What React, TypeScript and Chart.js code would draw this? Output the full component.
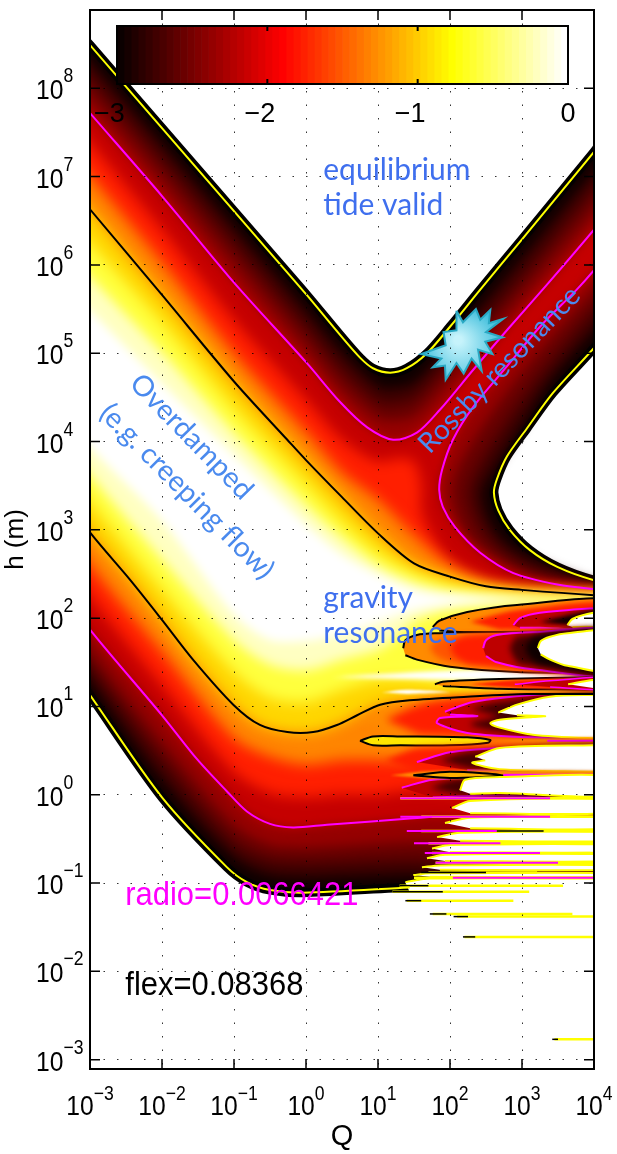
import React, { useEffect, useRef } from "react";
import { Chart, registerables } from "chart.js";

// ---------- data: log10(Q), log10(h) ----------
const qTickExps = [-3, -2, -1, 0, 1, 2, 3, 4];
const hTickExps = [-3, -2, -1, 0, 1, 2, 3, 4, 5, 6, 7, 8];
const colorbarTicks = [-3, -2, -1, 0];

const top00 = [[-3.4,8.87],[-3,8.49],[-2,7.55],[-1,6.61],[-.5,6.14],[.01,5.66],[.47,5.21],[.75,4.95],[.93,4.83],[1.17,4.78],[1.4,4.83],[1.68,5],[2,5.3],[2.42,5.72],[3,6.29],[4,7.28],[4.4,7.68]];
const nose00 = [[4.4,5.46],[4,5.06],[3.43,4.55],[3.07,4.15],[2.79,3.83],[2.65,3.57],[2.61,3.42],[2.67,3.22],[2.83,3],[3.11,2.77],[3.49,2.58],[4,2.43],[4.4,2.38]];
const low00 = [[4.4,-1.05],[1.44,-1.05],[-.04,-1.11],[-.5,-1.08],[-.82,-.99],[-1.1,-.82],[-2,-.03],[-3,1.13],[-3.4,1.59]];

const top06 = [[-3.4,8.69],[-3,8.31],[-2,7.37],[-1,6.43],[0,5.49],[.5,5.01],[1,4.63],[1.17,4.6],[1.5,4.67],[2,5.12],[3,6.08],[4,7.06],[4.4,7.46]];
const nose06 = [[4.4,5.66],[4,5.26],[3.4,4.7],[2.95,4.13],[2.6,3.68],[2.45,3.43],[2.55,3.09],[2.8,2.83],[3.2,2.64],[3.6,2.51],[4,2.4],[4.4,2.38]];
const low06 = [[4.4,-.91],[1.44,-.91],[.5,-.93],[0,-.94],[-.5,-.91],[-1,-.71],[-2,.17],[-3,1.3],[-3.4,1.76]];

const top12 = [[-3.4,8.5],[-3,8.12],[-2,7.18],[-1,6.24],[0,5.29],[.5,4.81],[1,4.45],[1.17,4.42],[1.5,4.49],[2,4.93],[3,5.86],[4,6.85],[4.4,7.25]];
const nose12 = [[4.4,5.89],[4,5.49],[3.3,4.81],[2.85,4.3],[2.45,3.79],[2.27,3.45],[2.35,3.14],[2.6,2.83],[3,2.6],[3.5,2.47],[4,2.38],[4.4,2.36]];
const low12 = [[4.4,-.74],[1.44,-.74],[.5,-.76],[0,-.77],[-.5,-.74],[-1,-.54],[-2,.39],[-3,1.47],[-3.4,1.93]];

const top18 = [[-3.4,8.3],[-3,7.92],[-2,6.98],[-1,6.03],[0,5.09],[.5,4.61],[1,4.27],[1.17,4.24],[1.5,4.29],[2,4.72],[3,5.66],[4,6.62],[4.4,7.02]];
const nose18 = [[4.4,6.12],[4,5.72],[3.25,5.04],[2.79,4.56],[2.4,4.11],[2.1,3.68],[2.03,3.43],[2.1,3.17],[2.3,2.88],[2.7,2.64],[3.2,2.45],[4,2.35],[4.4,2.33]];
const low18 = [[4.4,-.51],[1.44,-.54],[.5,-.58],[0,-.6],[-.5,-.57],[-1,-.34],[-2,.6],[-3,1.64],[-3.4,2.1]];

const top26 = [[-3.4,8.1],[-3,7.72],[-2,6.78],[-1,5.8],[.01,4.89],[.47,4.45],[.85,4.16],[1.21,4.02],[1.54,4.1],[1.86,4.36],[2.32,4.81],[2.79,5.26],[3.35,5.78],[4,6.4],[4.4,6.8]];
const nose26 = [[4.4,6.34],[4,5.94],[3.76,5.72],[3.25,5.3],[2.79,4.85],[2.32,4.39],[2.04,4.02],[1.89,3.68],[1.85,3.45],[1.9,3.26],[2.07,3.03],[2.42,2.74],[2.88,2.51],[3.49,2.38],[4,2.33],[4.4,2.31]];
const low26 = [[4.4,-.2],[1.75,-.25],[1.44,-.27],[.29,-.34],[-.18,-.37],[-.5,-.33],[-.82,-.19],[-1.1,.04],[-1.51,.4],[-2,.9],[-3,1.87],[-3.4,2.33]];

const top375 = [[-3.4,7.76],[-3,7.38],[-2,6.4],[-1,5.37],[0,4.47],[.5,4.02],[1,3.77],[1.3,3.81],[1.5,3.77],[1.6,3.51],[1.6,3.22],[1.75,2.94],[2,2.66],[2.5,2.43],[3,2.34],[4,2.3],[4.4,2.29]];
const low375 = [[4.4,.05],[1.5,.05],[1,0],[.5,0],[0,-.03],[-.5,.02],[-1,.26],[-2,1.24],[-3,2.24],[-3.4,2.7]];

const top50 = [[-3.4,7.39],[-3,7.01],[-2,6.03],[-1,5],[0,4.11],[.5,3.65],[1,3.34],[1.5,2.94],[2,2.6],[2.5,2.41],[3,2.32],[4,2.28],[4.4,2.27]];
const low50 = [[4.4,.37],[1.5,.37],[1,.39],[.5,.39],[0,.34],[-.5,.43],[-1,.64],[-2,1.62],[-3,2.6],[-3.4,3.06]];

const top63 = [[-3.4,7.01],[-3,6.63],[-2,5.66],[-1,4.68],[-.26,4.02],[0,3.79],[.5,3.37],[1,2.96],[1.5,2.62],[2,2.47],[2.5,2.36],[3,2.32],[4,2.26],[4.4,2.25]];
const low63 = [[4.4,1.14],[3.07,1.14],[2.24,1.11],[1.44,1.07],[1.03,1.02],[.71,.9],[.43,.79],[.1,.71],[-.26,.71],[-.64,.79],[-1.01,1.02],[-1.57,1.53],[-2,1.98],[-2.44,2.43],[-3,2.97],[-3.4,3.43]];

const top75 = [[-3.4,6.63],[-3,6.25],[-2,5.35],[-1,4.38],[0,3.53],[.5,3.11],[1,2.75],[1.5,2.52],[2,2.37],[2.5,2.3],[3,2.26],[4,2.24],[4.4,2.23]];
const low75 = [[4.4,1.19],[2,1.25],[1.5,1.3],[1,1.3],[.5,1.19],[0,1.05],[-.5,1.1],[-1,1.39],[-2,2.32],[-3,3.31],[-3.4,3.77]];

const top88 = [[-3.4,6.25],[-3,5.87],[-2,5.01],[-1,4.1],[0,3.28],[.5,2.91],[1,2.6],[1.5,2.41],[2,2.31],[3,2.24],[4,2.23],[4.4,2.22]];
const low88 = [[4.4,2.2],[3,2.17],[2,2.09],[1.5,1.96],[1.2,1.74],[1,1.64],[.5,1.53],[0,1.41],[-.5,1.47],[-1,1.75],[-2,2.66],[-3,3.62],[-3.4,4.08]];

const top100 = [[-3.4,5.87],[-3,5.49],[-2,4.66],[-1,3.85],[0,3.06],[.5,2.72],[1,2.49],[1.5,2.32],[2,2.25],[3,2.22],[4,2.2],[4.4,2.2]];
const low100 = [[4.4,2.19],[3,2.19],[2,2.16],[1.5,2.09],[1,1.95],[.5,1.82],[0,1.74],[-.5,1.75],[-1,2.04],[-2,3.1],[-3,3.94],[-3.4,4.4]];

const finger1 = [[.35,1.33],[1.31,1.38],[3,1.44],[4.4,1.45],[4.4,1.26],[3,1.28],[1.31,1.31]];
const finger2 = [[1.05,1.16],[1.4,1.19],[2,1.16],[1.4,1.14]];

const s1Outer = [[1.76,1.9],[1.85,1.97],[2.24,2.07],[2.93,2.15],[4.4,2.2],[4.4,1.85],[2.24,1.84],[1.85,1.86]];
const s1Red = [[2.28,1.96],[2.93,2.09],[4.4,2.17],[4.4,1.87],[2.69,1.87]];
const s1Mag = [[2.88,1.92],[2.97,2],[3.25,2.06],[3.99,2.11],[4.4,2.12],[4.4,1.88],[3.25,1.89],[2.97,1.89]];
const s1Dark = [[3.25,1.96],[3.99,2.09],[4.4,2.1],[4.4,1.89],[3.9,1.89]];
const s1Lobe = [[3.63,1.92],[3.7,1.99],[3.99,2.06],[4.4,2.09],[4.4,1.88],[3.99,1.9],[3.7,1.9]];

const s2Outer = [[1.35,1.66],[1.38,1.75],[1.54,1.81],[1.86,1.83],[2.24,1.84],[3.99,1.85],[4.4,1.85],[4.4,1.37],[3.99,1.38],[2.93,1.39],[2,1.45],[1.54,1.53],[1.38,1.58]];
const s2Orange = [[1.72,1.66],[1.8,1.74],[2,1.79],[4.4,1.83],[4.4,1.39],[2,1.5],[1.8,1.57]];
const s2Red = [[2,1.66],[2.08,1.75],[2.28,1.8],[4.4,1.83],[4.4,1.39],[2.28,1.48],[2.08,1.56]];
const s2Mag = [[2.46,1.66],[2.5,1.75],[2.65,1.81],[3.15,1.84],[4.4,1.85],[4.4,1.37],[3.15,1.42],[2.65,1.5],[2.5,1.57]];
const s2Deep = [[2.83,1.66],[2.88,1.75],[2.97,1.8],[4.4,1.84],[4.4,1.38],[2.97,1.48],[2.88,1.56]];
const s2Dark = [[3.04,1.66],[3.1,1.75],[3.25,1.81],[4.4,1.84],[4.4,1.38],[3.25,1.48],[3.1,1.56]];
const s2Lobe = [[3.22,1.66],[3.26,1.74],[3.39,1.79],[3.63,1.83],[4.4,1.84],[4.4,1.4],[3.63,1.46],[3.39,1.53],[3.26,1.59]];

const s3Outer = [[1.79,1.25],[1.9,1.28],[2.69,1.31],[3.99,1.33],[4.4,1.33],[4.4,1.18],[3.99,1.19],[2.69,1.2],[1.9,1.23]];
const s3Red = [[2.28,1.25],[2.97,1.3],[4.4,1.32],[4.4,1.19],[2.97,1.21]];
const s3Mag = [[2.9,1.25],[3.39,1.29],[4.4,1.33],[4.4,1.19],[3.39,1.22]];
const s3Lobe = [[3.64,1.25],[3.99,1.3],[4.4,1.31],[4.4,1.2],[3.99,1.21]];

const s4Orange = [[.75,.87],[1.3,1.03],[2.3,1.12],[4.4,1.14],[4.4,.62],[2.3,.64],[1.3,.66]];
const s4Red = [[1.1,.85],[1.58,1.02],[2.24,1.1],[3.99,1.13],[4.4,1.13],[4.4,.63],[3.99,.64],[2.24,.66],[1.58,.68]];
const s4Mag = [[1.93,.94],[2.32,1.05],[3.15,1.13],[3.99,1.14],[4.4,1.14],[4.4,.65],[3.99,.65],[3.15,.65],[2.24,.7],[1.82,.81],[1.86,.87],[2.38,.89],[2,.91]];
const s4Dark = [[2.28,.97],[2.69,1.05],[4.4,1.13],[4.4,.66],[2.69,.72],[2.28,.8],[2.69,.89]];
const s4Lobe = [[2.67,.93],[2.93,1.02],[3.39,1.11],[3.99,1.13],[4.4,1.13],[4.4,.64],[3.99,.64],[3.15,.68],[2.69,.76],[2.56,.81],[2.69,.85],[3.15,.88],[3.32,.89],[2.93,.9]];
const s4Oval = [[.75,.61],[.93,.66],[1.31,.66],[2.24,.65],[2.56,.62],[2.53,.59],[2,.56],[1.31,.56],[.93,.56],[.75,.61]];
const s4Strip = [[2.56,.61],[3.99,.65],[4.4,.65],[4.4,.55],[3.99,.55]];
const s4StripLine = [[3.35,.61],[4.4,.61]];

const s5Red = [[1.1,.39],[1.58,.53],[3.99,.56],[4.4,.56],[4.4,.22],[3.99,.23],[1.58,.25]];
const s5Mag = [[1.54,.37],[2,.48],[2.69,.53],[3.99,.56],[4.4,.56],[4.4,.23],[3.15,.25],[2.24,.28]];
const s5Dark = [[1.86,.39],[2.28,.48],[4.4,.55],[4.4,.24],[2.28,.3]];
const s5Lobe = [[2.35,.43],[2.69,.53],[3.99,.56],[4.4,.56],[4.4,.25],[3.99,.26],[2.69,.29],[2.31,.36],[2.49,.39]];
const s6Band = [[1.17,.22],[1.72,.27],[4.4,.26],[4.4,.2],[1.72,.18]];
const s6Oval = [[1.49,.22],[2,.26],[2.74,.22],[2,.19],[1.49,.22]];
const s6Line = [[2.74,.22],[4.4,.22]];

const d1Mag = [[1.33,.08],[1.76,.17],[2.69,.2],[4.4,.2],[4.4,-.05],[2.69,-.01],[1.76,-.03]];
const d1Dark = [[1.72,.08],[2.14,.18],[4.4,.2],[4.4,-.03],[2.14,0]];
const lobesLower = [
  [[2.14,.05],[2.21,.17],[2.69,.2],[4.4,.2],[4.4,-.01],[2.69,.02],[2.28,.01]],
  [[2.03,-.15],[2.28,-.07],[4.4,-.06],[4.4,-.2],[2.28,-.21]],
  [[1.93,-.32],[2.28,-.26],[4.4,-.26],[4.4,-.38],[2.28,-.38]],
  [[1.82,-.48],[2.14,-.43],[4.4,-.43],[4.4,-.52],[2.14,-.52]],
  [[1.75,-.61],[2,-.57],[4.4,-.57],[4.4,-.65],[2,-.65]],
  [[1.68,-.72],[1.93,-.68],[4.4,-.68],[4.4,-.75],[1.93,-.75]],
  [[1.61,-.82],[1.86,-.8],[4.4,-.8],[4.4,-.85],[1.86,-.85]],
  [[1.49,-.91],[1.72,-.89],[4.4,-.89],[4.4,-.93],[1.72,-.93]],
];
const lastWhite = [[1.38,-.99],[1.72,-.95],[4.4,-.95],[4.4,-1.5],[1.6,-1.5],[1.45,-1.12]];
const lastWhiteEdge = [[1.38,-.99],[1.72,-.95],[4.4,-.95]];

// [log10 h, log10 Q start, log10 Q end]
const yellowTails = [[-.04,1.31,4.4],[-.25,1.6,4.4],[-.41,1.6,4.4],[-.55,1.7,4.4],[-.66,1.75,3.95],[-.77,1.8,4.4],[-.88,1.7,3.21],[-.94,1.5,4.4],[-1.03,1.3,3.57],[-1.1,1.2,3.1],[-1.2,1.4,2.88],[-1.35,1.76,3.7],[-1.38,2.1,4.4],[-1.61,2.2,4.4],[-2.77,3.45,4.4]];
const magentaTails = [[-.04,1.31,3.39],[-.25,1.31,3.39],[-.41,1.4,2.65],[-.55,1.5,2.7],[-.66,1.65,3.25],[-.77,1.8,3.5],[-.94,2.04,4.4]];
const blackTails = [[-.41,2.65,3.3],[-.88,1.6,2.5],[-1.03,1.3,1.7],[-1.1,1.2,1.9],[-1.2,1.38,1.6],[-1.35,1.72,1.95],[-1.38,2.05,2.25],[-1.61,2.18,2.35],[-2.77,3.42,3.5]];

const star = [[2.09,5.48],[2.18,5.35],[2.36,5.5],[2.42,5.38],[2.56,5.49],[2.54,5.34],[2.74,5.39],[2.5,5.24],[2.73,5.18],[2.49,5.13],[2.59,4.99],[2.39,5.04],[2.44,4.8],[2.3,4.94],[2.19,4.77],[2.09,4.89],[1.94,4.7],[1.93,4.86],[1.76,4.84],[1.88,4.94],[1.6,4.99],[1.94,5.09],[1.91,5.24],[2.09,5.26],[2.09,5.48]];

const BLUE1 = "#3f6fee";
const BLUE2 = "#4a8aee";
// text, log10 Q, log10 h, rotation in degrees, font, colour, x stretch
const notes: [string, number, number, number, string, string, number][] = [
  ["equilibrium", .24, 6.96, 0, "30px Lato", BLUE1, 1],
  ["tide valid", .24, 6.57, 0, "30px Lato", BLUE1, 1],
  ["gravity", .24, 2.11, 0, "30px Lato", BLUE1, 1],
  ["resonance", .24, 1.72, 0, "30px Lato", BLUE1, 1],
  ["Overdamped", -2.47, 4.64, 45.7, "28.5px Lato", BLUE2, 1],
  ["(e.g. creeping flow)", -2.89, 4.3, 45.2, "28.5px Lato", BLUE2, 1],
  ["Rossby resonance", 1.72, 3.85, -46, "28px Lato", BLUE2, 1],
  ["radio=0.0066421", -2.51, -1.25, 0, "34px 'Liberation Sans'", "#ff00ff", .91],
  ["flex=0.08368", -2.51, -2.27, 0, "34px 'Liberation Sans'", "#000000", .91],
];

// ---------- helpers ----------
const clamp = (x: number) => Math.max(0, Math.min(1, x));
const hot = (t: number) => `rgb(${Math.round(255 * clamp(t / .375))},${Math.round(255 * clamp((t - .375) / .375))},${Math.round(255 * clamp((t - .75) / .25))})`;
const pts = (c: number[][]) => c.map(([u, v]) => ({ x: 10 ** u, y: 10 ** v }));
const area = (c: number[][], color: any, blur = 0, extra: any = {}) => ({
  data: pts(c), showLine: true, fill: "shape", backgroundColor: color, borderWidth: 0, pointRadius: 0, tension: .3, blurPx: blur, ...extra,
});
const stroke = (c: number[][], color: string, width = 2, tension = .3) => ({
  data: pts(c), showLine: true, fill: false, borderColor: color, borderWidth: width, pointRadius: 0, tension,
});
const RED = hot(.42), MAG = hot(.28), DARK = hot(.1), BLACK = hot(.02), ORANGE = hot(.58);
const lobe = (c: number[][]) => area(c, "#ffffff", 0, { borderColor: "#ffff00", borderWidth: 2, tension: .3 });
const outlined = (c: number[][], fillColor: string, line: string, width = 2) => area(c, fillColor, 0, { borderColor: line, borderWidth: width, tension: .3 });

const levelBlur = {
  id: "levelBlur",
  beforeDatasetDraw(chart: any, args: any) {
    const b = chart.data.datasets[args.index]?.blurPx;
    if (b) chart.ctx.filter = `blur(${b}px)`;
  },
  afterDatasetDraw(chart: any) {
    chart.ctx.filter = "none";
  },
};
Chart.register(levelBlur);
Chart.register(...registerables);

const TICK_FONT = "'Liberation Sans'";
function stretchText(ctx: any, s: string, x: number, y: number, font: string, sx: number) {
  ctx.save();
  ctx.font = font;
  ctx.translate(x, y);
  ctx.scale(sx, 1);
  ctx.textAlign = "left";
  ctx.textBaseline = "alphabetic";
  ctx.fillText(s, 0, 0);
  ctx.restore();
}
const expText = (e: number) => (e < 0 ? "\u2212" + -e : String(e));

const framePlugin = {
  id: "frameAndNotes",
  afterDraw(chart: any) {
    const { ctx, chartArea: a, scales } = chart;
    const X = scales.x, Y = scales.y;
    ctx.save();
    ctx.strokeStyle = "#000";
    ctx.fillStyle = "#000";
    ctx.lineWidth = 2;
    ctx.strokeRect(a.left, a.top, a.right - a.left, a.bottom - a.top);
    ctx.lineWidth = 1.5;
    ctx.beginPath();
    for (const e of qTickExps) {
      const x = X.getPixelForValue(10 ** e);
      ctx.moveTo(x, a.top); ctx.lineTo(x, a.top + 10);
      ctx.moveTo(x, a.bottom); ctx.lineTo(x, a.bottom - 10);
    }
    for (const e of hTickExps) {
      const y = Y.getPixelForValue(10 ** e);
      ctx.moveTo(a.left, y); ctx.lineTo(a.left + 10, y);
      ctx.moveTo(a.right, y); ctx.lineTo(a.right - 10, y);
    }
    ctx.stroke();
    const big = `28px ${TICK_FONT}`, small = `20px ${TICK_FONT}`, sx = .88;
    const width = (s: string, font: string) => { ctx.font = font; return ctx.measureText(s).width * sx; };
    for (const e of qTickExps) {
      const x = X.getPixelForValue(10 ** e);
      const ex = expText(e);
      const w = width("10", big), w2 = width(ex, small);
      const left = x - (w + w2) / 2;
      stretchText(ctx, "10", left, a.bottom + 46, big, sx);
      stretchText(ctx, ex, left + w, a.bottom + 31, small, sx);
    }
    for (const e of hTickExps) {
      const y = Y.getPixelForValue(10 ** e);
      const w = width("10", big);
      stretchText(ctx, "10", 36, y + 11, big, sx);
      stretchText(ctx, expText(e), 36 + w, y - 6, small, sx);
    }
    for (const [s, u, v, rot, font, color, k] of notes) {
      ctx.save();
      ctx.translate(X.getPixelForValue(10 ** u), Y.getPixelForValue(10 ** v));
      ctx.rotate((rot * Math.PI) / 180);
      ctx.fillStyle = color;
      stretchText(ctx, s, 0, 0, font, k);
      ctx.restore();
    }
    ctx.restore();
  },
};

const barFrame = {
  id: "barFrame",
  afterDraw(chart: any) {
    const { ctx, chartArea: a, scales } = chart;
    ctx.save();
    ctx.strokeStyle = "#000";
    ctx.lineWidth = 2;
    ctx.strokeRect(a.left, a.top, a.right - a.left, a.bottom - a.top);
    ctx.beginPath();
    for (const t of colorbarTicks.slice(1, 3)) {
      const x = scales.x.getPixelForValue(t);
      ctx.moveTo(x, a.top); ctx.lineTo(x, a.top + 5);
      ctx.moveTo(x, a.bottom); ctx.lineTo(x, a.bottom - 5);
    }
    ctx.stroke();
    ctx.restore();
  },
};

export default function App() {
  const mainRef = useRef<HTMLCanvasElement>(null);
  const barRef = useRef<HTMLCanvasElement>(null);

  useEffect(() => {
    document.body.style.margin = "0";
    const ctx = mainRef.current!.getContext("2d")!;
    const starFill = ctx.createRadialGradient(458, 340, 4, 462, 348, 42);
    starFill.addColorStop(0, "#c6f3fb");
    starFill.addColorStop(1, "#3dbddb");

    const painted: any[] = [
      area([...top00, ...nose00, ...low00], hot(.02), 0, { borderColor: "#000", borderWidth: 9, tension: .3 }),
      area([...top06, ...nose06, ...low06], hot(.09), 6),
      area([...top12, ...nose12, ...low12], hot(.15), 6),
      area([...top18, ...nose18, ...low18], hot(.22), 6),
      area([...top26, ...nose26, ...low26], hot(.29), 5),
      area([...top375, ...low375], hot(.42), 7),
      area([...top50, ...low50], hot(.57), 7),
      area([...top63, ...low63], hot(.69), 7),
      area([...top75, ...low75], hot(.81), 7),
      area([...top88, ...low88], hot(.94), 6),
      area([...top100, ...low100], "#ffffff", 5),
      area(finger1, "#ffffff", 2),
      area(finger2, "#ffffff", 1),

      area(s4Orange, ORANGE, 4), area(s4Red, RED, 4), outlined(s4Mag, MAG, "#ff00ff"),
      area(s4Dark, DARK, 3), lobe(s4Lobe),
      area(s4Strip, "#ff8a00", 1),
      stroke(s4StripLine, "#ff00ff", 2),
      outlined(s4Oval, "#ffe600", "#000"),

      area(s5Red, RED, 3), outlined(s5Mag, MAG, "#ff00ff"), area(s5Dark, DARK, 3), lobe(s5Lobe),
      outlined(d1Mag, MAG, "#ff00ff"), area(d1Dark, DARK, 3),
      area(s6Band, ORANGE, 1),
      outlined(s6Oval, "#ffb000", "#000"),
      stroke(s6Line, "#ff00ff", 3),

      outlined(s1Outer, ORANGE, "#000"), area(s1Red, RED, 2), outlined(s1Mag, MAG, "#ff00ff"), area(s1Dark, BLACK, 2), lobe(s1Lobe),
      outlined(s2Outer, ORANGE, "#000"), area(s2Orange, hot(.5), 3), area(s2Red, RED, 3), outlined(s2Mag, MAG, "#ff00ff"), area(s2Deep, DARK, 3), area(s2Dark, BLACK, 3), lobe(s2Lobe),
      outlined(s3Outer, ORANGE, "#000"), area(s3Red, RED, 1), outlined(s3Mag, MAG, "#ff00ff", 1.5), lobe(s3Lobe),

      ...lobesLower.map(lobe),
      area(lastWhite, "#ffffff", 0, { tension: 0 }),
      stroke(lastWhiteEdge, "#ffff00", 2),

      ...yellowTails.map(([v, a, b]) => stroke([[a, v], [b, v]], "#ffff00", 2.5, 0)),
      ...magentaTails.map(([v, a, b]) => stroke([[a, v], [b, v]], "#ff00ff", 2, 0)),
      ...blackTails.map(([v, a, b]) => stroke([[a, v], [b, v]], "#000000", 1.5, 0)),

      stroke(top00, "#ffff00", 2),
      stroke(nose00, "#ffff00", 2),
      stroke(low00.slice(1), "#ffff00", 2),
      stroke(top26, "#ff00ff", 2),
      stroke(nose26, "#ff00ff", 2),
      stroke(low26.slice(1), "#ff00ff", 2),
      stroke(top63, "#000000", 2),
      stroke(low63, "#000000", 2),

      area(star, starFill, 0, { borderColor: "#2aa9c4", borderWidth: 2, tension: 0 }),
    ];

    const main = new Chart(mainRef.current!, {
      type: "scatter",
      data: { datasets: painted.reverse() },
      options: {
        responsive: false,
        animation: false,
        events: [],
        layout: { padding: { left: 0, top: 10, right: 23, bottom: 0 } },
        plugins: { legend: { display: false }, tooltip: { enabled: false }, title: { display: false } },
        scales: {
          x: {
            type: "logarithmic",
            min: 1e-3,
            max: 1e4,
            afterBuildTicks: (s: any) => { s.ticks = qTickExps.map((e) => ({ value: 10 ** e })); },
            afterFit: (s: any) => { s.height = 85; },
            ticks: { display: false },
            grid: { color: "rgba(0,0,0,.8)", lineWidth: 1, z: 1, drawTicks: false },
            border: { display: false, dash: [1.5, 12] },
            title: { display: true, text: "Q", color: "#000", font: { size: 29, family: TICK_FONT }, padding: 0 },
          },
          y: {
            type: "logarithmic",
            min: 10 ** -3.106,
            max: 10 ** 8.887,
            afterBuildTicks: (s: any) => { s.ticks = hTickExps.map((e) => ({ value: 10 ** e })); },
            afterFit: (s: any) => { s.width = 90; },
            ticks: { display: false },
            grid: { color: "rgba(0,0,0,.8)", lineWidth: 1, z: 1, drawTicks: false },
            border: { display: false, dash: [1.5, 12] },
            title: { display: true, text: "h (m)", color: "#000", font: { size: 26, family: TICK_FONT }, padding: 0 },
          },
        },
      } as any,
      plugins: [framePlugin],
    } as any);

    const cells = Array.from({ length: 64 }, (_, i) => i);
    const bar = new Chart(barRef.current!, {
      type: "bar",
      data: {
        labels: ["colorbar"],
        datasets: cells.map((i) => ({
          data: [[-3 + (i * 3) / 64, -3 + ((i + 1) * 3) / 64]],
          backgroundColor: hot((i + 1) / 64),
          borderWidth: 0,
          barPercentage: 1,
          categoryPercentage: 1,
          grouped: false,
        })),
      } as any,
      options: {
        indexAxis: "y",
        responsive: false,
        animation: false,
        events: [],
        layout: { padding: { left: 117, right: 49, top: 26, bottom: 0 } },
        plugins: { legend: { display: false }, tooltip: { enabled: false } },
        scales: {
          x: {
            type: "linear",
            min: -3,
            max: 0,
            afterFit: (s: any) => { s.height = 56; },
            afterBuildTicks: (s: any) => { s.ticks = colorbarTicks.map((value) => ({ value })); },
            ticks: {
              color: "#000",
              padding: 6,
              maxRotation: 0,
              font: { size: 27, family: TICK_FONT },
              callback: (v: any) => (Number(v) < 0 ? expText(Number(v)) + "\u2007" : expText(Number(v))),
            },
            grid: { display: false },
            border: { display: false },
          },
          y: { type: "category", display: false },
        },
      } as any,
      plugins: [barFrame],
    } as any);

    return () => {
      main.destroy();
      bar.destroy();
    };
  }, []);

  return (
    <div style={{ position: "relative", width: 617, height: 1154, background: "#fff" }}>
      <canvas ref={mainRef} width={617} height={1154} style={{ position: "absolute", left: 0, top: 0, display: "block" }} />
      <canvas ref={barRef} width={617} height={140} style={{ position: "absolute", left: 0, top: 0, display: "block" }} />
    </div>
  );
}
